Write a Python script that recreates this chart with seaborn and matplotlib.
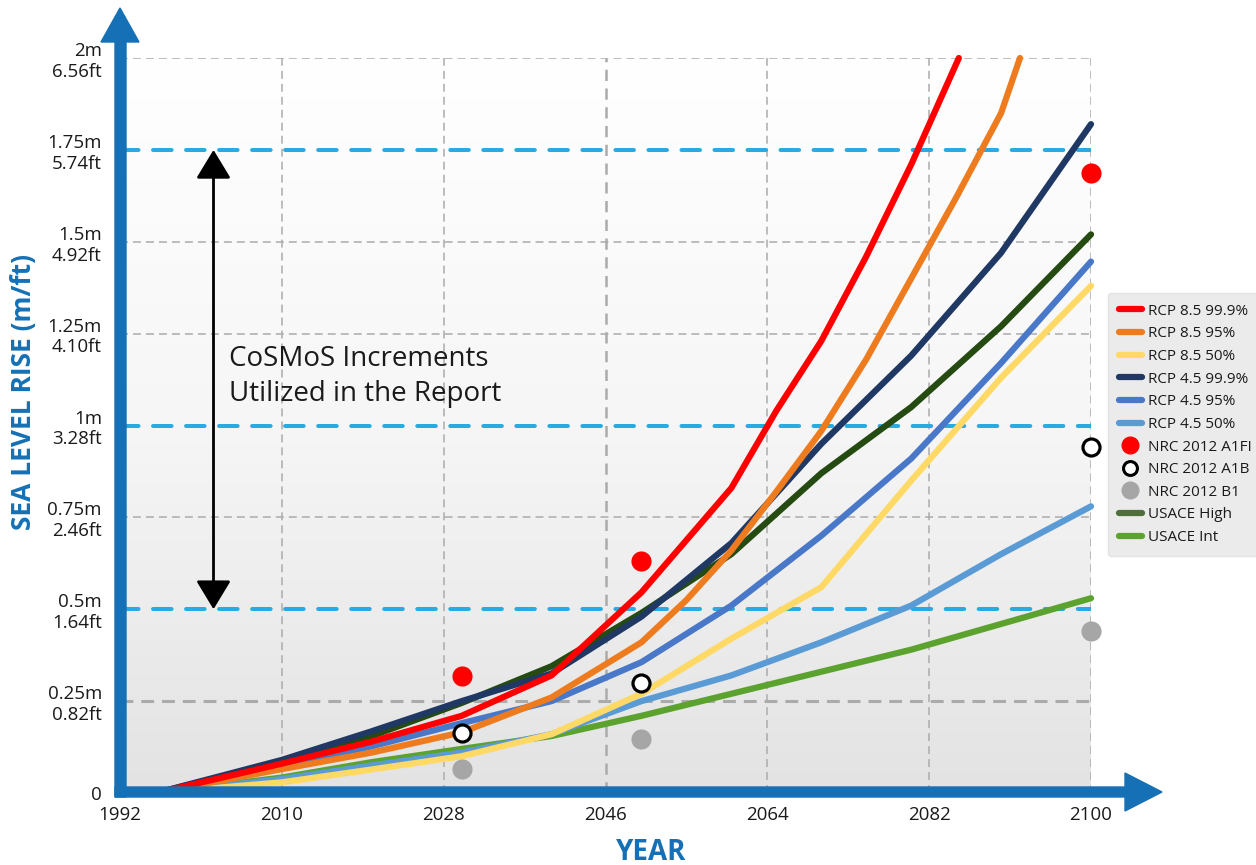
import numpy as np
import pandas as pd
import matplotlib.pyplot as plt
import seaborn as sns
from matplotlib.patches import Polygon
from matplotlib.lines import Line2D
from matplotlib.colors import LinearSegmentedColormap
from matplotlib.patches import ArrowStyle

# projection curves (m)
years = [1996, 2010, 2020, 2030, 2040, 2050, 2060, 2070, 2080, 2090, 2100]
rcp85_999_years = [1996, 2010, 2020, 2030, 2040, 2050, 2060, 2065, 2070, 2075, 2080, 2085.3]
rcp85_999 = [0, 0.08, 0.14, 0.21, 0.32, 0.546, 0.83, 1.04, 1.23, 1.46, 1.71, 2.0]
rcp85_95_years = [1996, 2010, 2020, 2030, 2040, 2050, 2055, 2060, 2065, 2070, 2075, 2080,
                  2085, 2090, 2092.1]
rcp85_95 = [0, 0.065, 0.11, 0.165, 0.26, 0.41, 0.525, 0.66, 0.82, 0.985, 1.18, 1.40,
            1.62, 1.85, 2.0]
rcp85_50 = [0, 0.029, 0.064, 0.10, 0.16, 0.27, 0.42, 0.56, 0.85, 1.13, 1.38]
rcp45_999 = [0, 0.09, 0.168, 0.25, 0.325, 0.48, 0.68, 0.95, 1.19, 1.47, 1.82]
rcp45_95 = [0, 0.072, 0.127, 0.19, 0.25, 0.356, 0.51, 0.70, 0.91, 1.17, 1.446]
rcp45_50 = [0, 0.038, 0.075, 0.11, 0.16, 0.25, 0.32, 0.41, 0.51, 0.65, 0.78]
usace_high = [0, 0.085, 0.155, 0.245, 0.345, 0.49, 0.65, 0.87, 1.05, 1.27, 1.52]
usace_int = [0, 0.042, 0.084, 0.12, 0.155, 0.21, 0.27, 0.33, 0.39, 0.46, 0.53]

# NRC 2012 points
nrc_years = [2030, 2050, 2100]
nrc_a1fi = [0.318, 0.631, 1.688]
nrc_a1b = [0.164, 0.30, 0.942]
nrc_b1 = [0.064, 0.146, 0.44]

xticks = [1992, 2010, 2028, 2046, 2064, 2082, 2100]
yticks = [0, 0.25, 0.5, 0.75, 1.0, 1.25, 1.5, 1.75, 2.0]
ytick_labels = ['0', '0.25m\n0.82ft', '0.5m\n1.64ft', '0.75m\n2.46ft', '1m\n3.28ft',
                '1.25m\n4.10ft', '1.5m\n4.92ft', '1.75m\n5.74ft', '2m\n6.56ft']

sns.set_style('white')
plt.rcParams['font.family'] = ['Open Sans', 'DejaVu Sans']

W, H = 1256, 865
BLUE = '#1570b5'
fig = plt.figure(figsize=(W / 100, H / 100), dpi=100)
ax = fig.add_axes([120 / W, 1 - 793 / H, (1091 - 120) / W, (793 - 58) / H])

# background gradient
bg = LinearSegmentedColormap.from_list('bg', ['#e3e3e3', '#f6f6f6', '#ffffff'])
ax.imshow(np.linspace(0, 1, 256).reshape(-1, 1), extent=[1992, 2100, 0, 2],
          aspect='auto', cmap=bg, origin='lower', zorder=0)

# grid
for x in [2010, 2028, 2064, 2082, 2100]:
    ax.plot([x, x], [0, 2], color='#ababab', lw=1.1, dashes=(5.2, 3.3), zorder=1)
ax.plot([2046, 2046], [0, 2], color='#ababab', lw=1.8, dashes=(4.5, 3), zorder=1)
for y in [0.75, 1.25, 1.5, 2.0]:
    ax.plot([1992, 2100], [y, y], color='#ababab', lw=1.1, dashes=(5.2, 3.3), zorder=1)
ax.plot([1992, 2100], [0.25, 0.25], color='#ababab', lw=2.2, dashes=(4.2, 2.6), zorder=1)
for y in [0.5, 1.0, 1.75]:
    ax.plot([1992, 2100], [y, y], color='#29abe2', lw=2.9, dashes=(4.6, 3.6),
            dash_capstyle='round', zorder=1)

# curves
curves = [
    ('USACE Int', years, usace_int, '#5ca22e'),
    ('USACE High', years, usace_high, '#254a12'),
    ('RCP 4.5 50%', years, rcp45_50, '#5b9bd5'),
    ('RCP 4.5 95%', years, rcp45_95, '#4a78c8'),
    ('RCP 4.5 99.9%', years, rcp45_999, '#1f3864'),
    ('RCP 8.5 50%', years, rcp85_50, '#ffd966'),
    ('RCP 8.5 95%', rcp85_95_years, rcp85_95, '#ef7b1f'),
    ('RCP 8.5 99.9%', rcp85_999_years, rcp85_999, '#ff0000'),
]
df = pd.concat([pd.DataFrame({'year': yr, 'rise': v, 'series': n}) for n, yr, v, c in curves])
sns.lineplot(data=df, x='year', y='rise', hue='series', hue_order=[c[0] for c in curves],
             palette=[c[3] for c in curves], estimator=None, sort=False, lw=4.5,
             solid_capstyle='round', solid_joinstyle='round', legend=False, ax=ax,
             zorder=3, clip_on=False)

sns.scatterplot(x=nrc_years, y=nrc_a1fi, color='#ff0000', s=210, linewidth=0,
                ax=ax, zorder=5, clip_on=False)
sns.scatterplot(x=nrc_years, y=nrc_a1b, color='white', edgecolor='black', s=150,
                linewidth=2.3, ax=ax, zorder=5, clip_on=False)
sns.scatterplot(x=nrc_years, y=nrc_b1, color='#a6a6a6', s=210, linewidth=0,
                ax=ax, zorder=5, clip_on=False)

# CoSMoS increments
ax.annotate('', xy=(2002.4, 1.75), xytext=(2002.4, 0.5),
            arrowprops=dict(arrowstyle=ArrowStyle('<|-|>', head_length=0.33, head_width=0.2),
                            color='black', lw=2, mutation_scale=54, shrinkA=0, shrinkB=0),
            zorder=4)
ax.text(2004.1, 1.133, 'CoSMoS Increments\nUtilized in the Report', fontsize=20,
        color='#1a1a1a', ha='left', va='center', linespacing=1.3, zorder=4)

ax.set_xlim(1992, 2100)
ax.set_ylim(0, 2)
ax.set_xticks(xticks)
ax.set_xticklabels([str(x) for x in xticks])
ax.set_yticks(yticks)
ax.set_yticklabels(ytick_labels)
ax.tick_params(axis='both', length=0, labelsize=13.5, colors='#1a1a1a')
ax.tick_params(axis='x', pad=9)
ax.tick_params(axis='y', pad=13)
ax.set_xlabel('')
ax.set_ylabel('')
for s in ax.spines.values():
    s.set_visible(False)


def fp(pts):
    return [(x / W, 1 - y / H) for x, y in pts]


# axis arrows
fig.add_artist(Polygon(fp([(115, 797), (126, 797), (126, 42), (139, 42), (120, 8),
                           (101, 42), (115, 42)]),
                       closed=True, color=BLUE, transform=fig.transFigure, zorder=6))
fig.add_artist(Polygon(fp([(115, 787), (1125, 787), (1125, 773), (1162, 792), (1125, 811),
                           (1125, 797), (115, 797)]),
                       closed=True, color=BLUE, transform=fig.transFigure, zorder=6))

fig.text(24 / W, 1 - 392 / H, 'SEA LEVEL RISE (m/ft)', rotation=90, color=BLUE,
         fontsize=19, fontweight='bold', ha='center', va='center')
fig.text(651 / W, 1 - 852 / H, 'YEAR', color=BLUE, fontsize=20, fontweight='bold',
         ha='center', va='center')

# legend
order = ['RCP 8.5 99.9%', 'RCP 8.5 95%', 'RCP 8.5 50%', 'RCP 4.5 99.9%', 'RCP 4.5 95%',
         'RCP 4.5 50%']
cmap = {c[0]: c[3] for c in curves}
handles = [Line2D([0], [0], color=cmap[n], lw=4.5, solid_capstyle='round') for n in order]
labels = list(order)
handles += [
    Line2D([0], [0], marker='o', ls='none', markerfacecolor='#ff0000', markeredgecolor='#ff0000', markersize=12),
    Line2D([0], [0], marker='o', ls='none', markerfacecolor='white', markeredgecolor='black', markersize=10, mew=2.2),
    Line2D([0], [0], marker='o', ls='none', markerfacecolor='#a6a6a6', markeredgecolor='#a6a6a6', markersize=12),
    Line2D([0], [0], color='#4e6e3a', lw=4.5, solid_capstyle='round'),
    Line2D([0], [0], color=cmap['USACE Int'], lw=4.5, solid_capstyle='round'),
]
labels += ['NRC 2012 A1FI', 'NRC 2012 A1B', 'NRC 2012 B1', 'USACE High', 'USACE Int']
leg = ax.legend(handles, labels, loc='upper left', bbox_to_anchor=(1108 / W, 1 - 293 / H),
                bbox_transform=fig.transFigure, frameon=True, fancybox=True,
                facecolor='#ebebeb', edgecolor='#e3e3e3', framealpha=1, fontsize=11,
                handlelength=1.5, handletextpad=0.4, labelspacing=0.5, borderpad=0.7,
                borderaxespad=0)
for t in leg.get_texts():
    t.set_color('#1a1a1a')

fig.savefig('out.png', dpi=100)
